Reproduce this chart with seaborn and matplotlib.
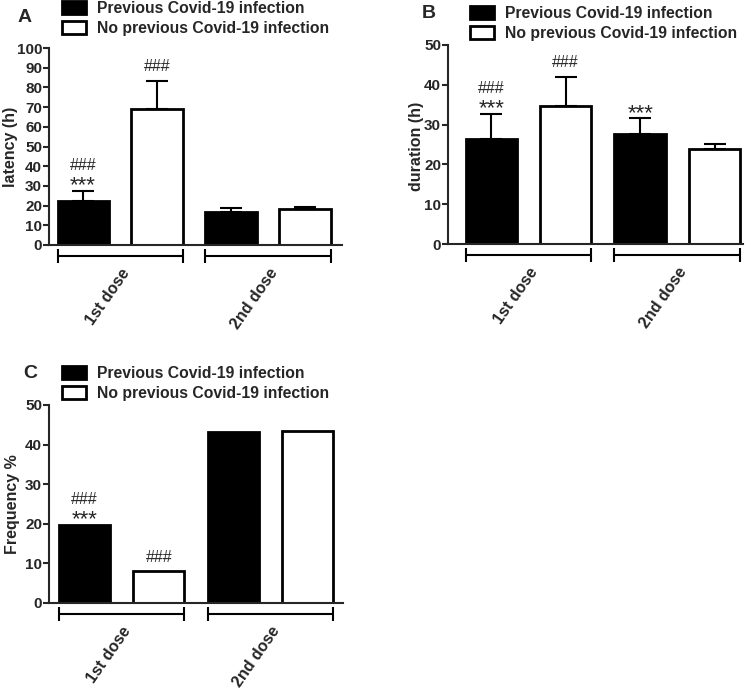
import matplotlib
matplotlib.use("Agg")
import matplotlib.pyplot as plt
import matplotlib.transforms as mtransforms
import numpy as np
import pandas as pd
import seaborn as sns

doses = ["1st dose", "2nd dose"]
groups = ["Previous Covid-19 infection", "No previous Covid-19 infection"]

# A - latency (h): mean and SEM (only the upper half is drawn)
latency_prev = [22.4, 16.8]
latency_prev_sem = [5.0, 1.8]
latency_noprev = [69.1, 18.3]
latency_noprev_sem = [14.4, 1.0]
latency_stars = [["***", ""], ["", ""]]
latency_hashes = [["###", ""], ["###", ""]]

# B - duration (h)
duration_prev = [26.3, 27.6]
duration_prev_sem = [6.4, 4.0]
duration_noprev = [34.7, 23.9]
duration_noprev_sem = [7.3, 1.2]
duration_stars = [["***", "***"], ["", ""]]
duration_hashes = [["###", ""], ["###", ""]]

# C - frequency %, no error bars
freq_prev = [19.7, 43.2]
freq_noprev = [8.1, 43.4]
freq_stars = [["***", ""], ["", ""]]
freq_hashes = [["###", ""], ["###", ""]]

sns.set_style("ticks")
plt.rcParams["font.family"] = ["Liberation Sans", "DejaVu Sans"]
plt.rcParams["font.weight"] = "bold"
plt.rcParams["axes.labelweight"] = "bold"

W, H = 753, 690
fig = plt.figure(figsize=(W / 100, H / 100), dpi=100)


def px_rect(left, right, bottom, top):
    return [left / W, 1 - bottom / H, (right - left) / W, (bottom - top) / H]


def draw_panel(ax, prev, noprev, prev_err, noprev_err, stars, hashes,
               ylabel, ymax, xlim, ylabel_xy, legend_xy, letter, letter_xy):
    df = pd.DataFrame({
        "dose": doses * 2,
        "group": [groups[0]] * len(doses) + [groups[1]] * len(doses),
        "value": list(prev) + list(noprev),
    })
    sns.barplot(data=df, x="dose", y="value", hue="group", order=doses,
                hue_order=groups, palette=["black", "white"], edgecolor="black",
                linewidth=2, width=1.0, gap=0.31, errorbar=None, legend=False,
                ax=ax)
    bars = list(ax.containers)

    errs = [prev_err, noprev_err]
    for cont, err, st, hs_marks in zip(bars, errs, stars, hashes):
        xs = np.array([p.get_x() + p.get_width() / 2 for p in cont])
        hs = np.array([p.get_height() for p in cont])
        tops = hs.copy()
        if err is not None:
            err = np.array(err)
            ax.errorbar(xs, hs, yerr=[np.zeros_like(err), err], fmt="none",
                        ecolor="black", elinewidth=1.5, capsize=8, capthick=1.5,
                        clip_on=False)
            tops = hs + err
        for x, t, s, h in zip(xs, tops, st, hs_marks):
            # asterisks sit under the hashes when both are present
            if s:
                ax.annotate(s, (x, t), xytext=(0, 3.5), textcoords="offset points",
                            ha="center", va="center", fontsize=16,
                            fontweight="normal")
            if h:
                off = 18.5 if s else 10
                ax.annotate(h, (x, t), xytext=(0, off), textcoords="offset points",
                            ha="center", va="center", fontsize=11.5,
                            fontweight="normal")

    ax.set_xlim(*xlim)
    ax.set_ylim(0, ymax)
    ax.set_yticks(np.arange(0, ymax + 1, 10))
    sns.despine(ax=ax)
    for s in ["left", "bottom"]:
        ax.spines[s].set_linewidth(1.5)
    ax.tick_params(axis="y", direction="out", length=4, width=1.5,
                   labelsize=11, pad=1)
    ax.tick_params(axis="x", length=0, pad=15, labelsize=11.5)
    for lab in ax.get_xticklabels():
        lab.set_rotation(55)
        lab.set_ha("right")
        lab.set_rotation_mode("anchor")
    ax.set_xlabel("")
    ax.set_ylabel(ylabel, fontsize=11.5)
    ax.yaxis.set_label_coords(*ylabel_xy)

    # group brackets below the x axis
    trans = mtransforms.offset_copy(ax.get_xaxis_transform(), fig=fig,
                                    y=-8, units="points")
    c0, c1 = bars
    for i in range(len(doses)):
        x0 = c0[i].get_x()
        x1 = c1[i].get_x() + c1[i].get_width()
        ax.plot([x0, x1], [0, 0], color="black", lw=1.5, marker="|",
                markersize=10, markeredgewidth=1.5, transform=trans,
                clip_on=False)

    ax.legend(bars, groups, loc="upper left",
              bbox_to_anchor=(legend_xy[0] / W, 1 - legend_xy[1] / H),
              bbox_transform=fig.transFigure, frameon=False, fontsize=11.3,
              handlelength=1.5, handleheight=0.85, handletextpad=0.75,
              labelspacing=0.3, borderpad=0, borderaxespad=0)

    fig.text(letter_xy[0] / W, 1 - letter_xy[1] / H, letter, fontsize=14,
             fontweight="bold", va="baseline")


ax_a = fig.add_axes(px_rect(49, 342, 245, 48))
ax_b = fig.add_axes(px_rect(448, 743, 244, 45))
ax_c = fig.add_axes(px_rect(49, 343, 603, 405))

draw_panel(ax_a, latency_prev, latency_noprev, latency_prev_sem,
           latency_noprev_sem, latency_stars, latency_hashes,
           "latency (h)", 100, (-0.48, 1.5), (-0.105, 0.5), (62, 1), "A", (18, 22))
draw_panel(ax_b, duration_prev, duration_noprev, duration_prev_sem,
           duration_noprev_sem, duration_stars, duration_hashes,
           "duration (h)", 50, (-0.54, 1.44), (-0.08, 0.49), (470, 6), "B", (422, 18))
draw_panel(ax_c, freq_prev, freq_noprev, None, None, freq_stars, freq_hashes,
           "Frequency %", 50, (-0.49, 1.49), (-0.1, 0.5),
           (62, 366), "C", (23, 378))

fig.savefig("out.png", dpi=100)
